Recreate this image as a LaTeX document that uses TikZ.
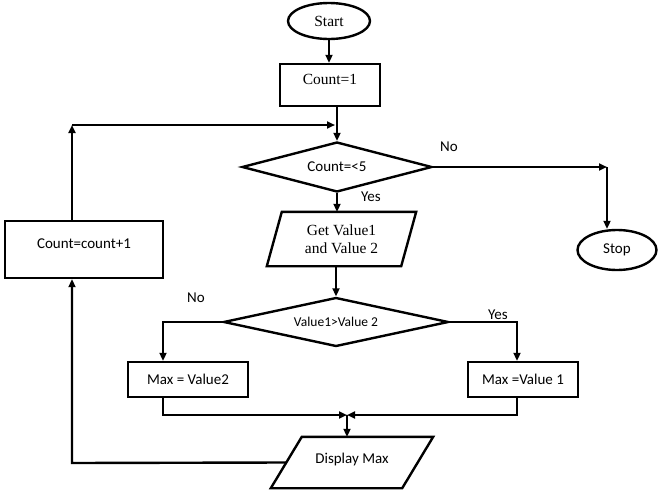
\documentclass[tikz,border=0pt]{standalone}
\usepackage{fontspec}
\setmainfont{Liberation Serif}
\newfontfamily\wordsans{Carlito}
\usetikzlibrary{shapes.geometric,arrows.meta,calc,positioning}

\begin{document}
\begin{tikzpicture}[x=1pt,y=-1pt,line width=2.4pt,
	>={Triangle[length=8pt,width=7pt]},
	every node/.style={font=\fontsize{15.5}{18}\selectfont},
	sanstext/.style={font=\wordsans\fontsize{15}{17}\selectfont},
	term/.style={draw,ellipse,inner sep=0pt},
	proc/.style={draw,rectangle,inner sep=0pt},
	decide/.style={draw,diamond,inner sep=0pt,sanstext},
	io/.style={rectangle,inner sep=0pt,align=center}]
	\useasboundingbox (0,0) rectangle (662,498);
	
	% boxes
	\node[term,minimum width=82,minimum height=36] (start) at (329,21) {Start};
	\node[proc,minimum width=100,minimum height=42,text depth=12pt] (cnt) at (330,85) {Count=1};
	\node[decide,aspect=3.8,minimum width=190,minimum height=50] (cond) at (337,167) {Count=<5};
	\node[term,sanstext,minimum width=79,minimum height=40] (stop) at (617,250) {Stop};
	\node[io,minimum width=147,minimum height=52] (getval) at (341.5,239) {Get Value1\\and Value 2};
	\node[decide,aspect=4.6,minimum width=225,minimum height=49,font=\wordsans\fontsize{13.5}{14}\selectfont] (cmp) at (336,322) {Value1>Value 2};
	\node[proc,sanstext,minimum width=120,minimum height=35] (maxtwo) at (188,379.5) {Max = Value2};
	\node[proc,sanstext,minimum width=110,minimum height=35] (maxone) at (523,379.5) {Max =Value 1};
	\node[io,sanstext,minimum width=160,minimum height=49,text depth=8pt] (display) at (352,462.5) {Display Max};
	\node[proc,sanstext,minimum width=158,minimum height=57,text depth=12pt] (incr) at (84,249.5) {Count=count+1};
	
	% slanted outlines of the two input/output boxes
	\draw (getval.south west) -- ($(getval.north west)+(15,0)$) -- (getval.north east) -- ($(getval.south east)-(15,0)$) -- cycle;
	\draw (display.south west) -- ($(display.north west)+(31,0)$) -- (display.north east) -- ($(display.south east)-(31,0)$) -- cycle;
	
	% labels
	\node[sanstext] (noA) at (449,147) {No};
	\node[sanstext] (yesA) at (371,197) {Yes};
	\node[sanstext] (noB) at (196,298) {No};
	\node[sanstext] (yesB) at (498,315) {Yes};
	
	% corners
	\coordinate (loop) at (72,125);
	\coordinate (join) at (335,125);
	\coordinate (noturn) at (607,167);
	\coordinate (lturn) at (163,322);
	\coordinate (rturn) at (517,322);
	\coordinate (lbot) at (163,415);
	\coordinate (rbot) at (517,415);
	\coordinate (merge) at (347,415);
	\coordinate (back) at (72,463);
	
	% connectors
	\draw[->] (start.south) -- (start.south |- cnt.north);
	\draw[->] (cnt.south -| cond.north) -- (cond.north);
	\draw[->] (incr.north -| loop) -- (loop);
	\draw[->] (loop) -- (join);
	\draw[->] (cond.east) -- (noturn);
	\draw[->] (noturn) -- (noturn |- stop.north);
	\draw[->] (cond.south) -- (cond.south |- getval.north);
	\draw[->] (getval.south -| cmp.north) -- (cmp.north);
	\draw[->] (cmp.west) -- (lturn) -- (lturn |- maxtwo.north);
	\draw[->] (cmp.east) -- (rturn) -- (rturn |- maxone.north);
	\draw[->] (lturn |- maxtwo.south) -- (lbot) -- (merge);
	\draw[->] (rturn |- maxone.south) -- (rbot) -- (merge);
	\draw[->] (merge) -- (merge |- display.north);
	\draw[->] ($(display.west)+(15.5,0)$) -- (back) -- (back |- incr.south);
\end{tikzpicture}
\end{document}
